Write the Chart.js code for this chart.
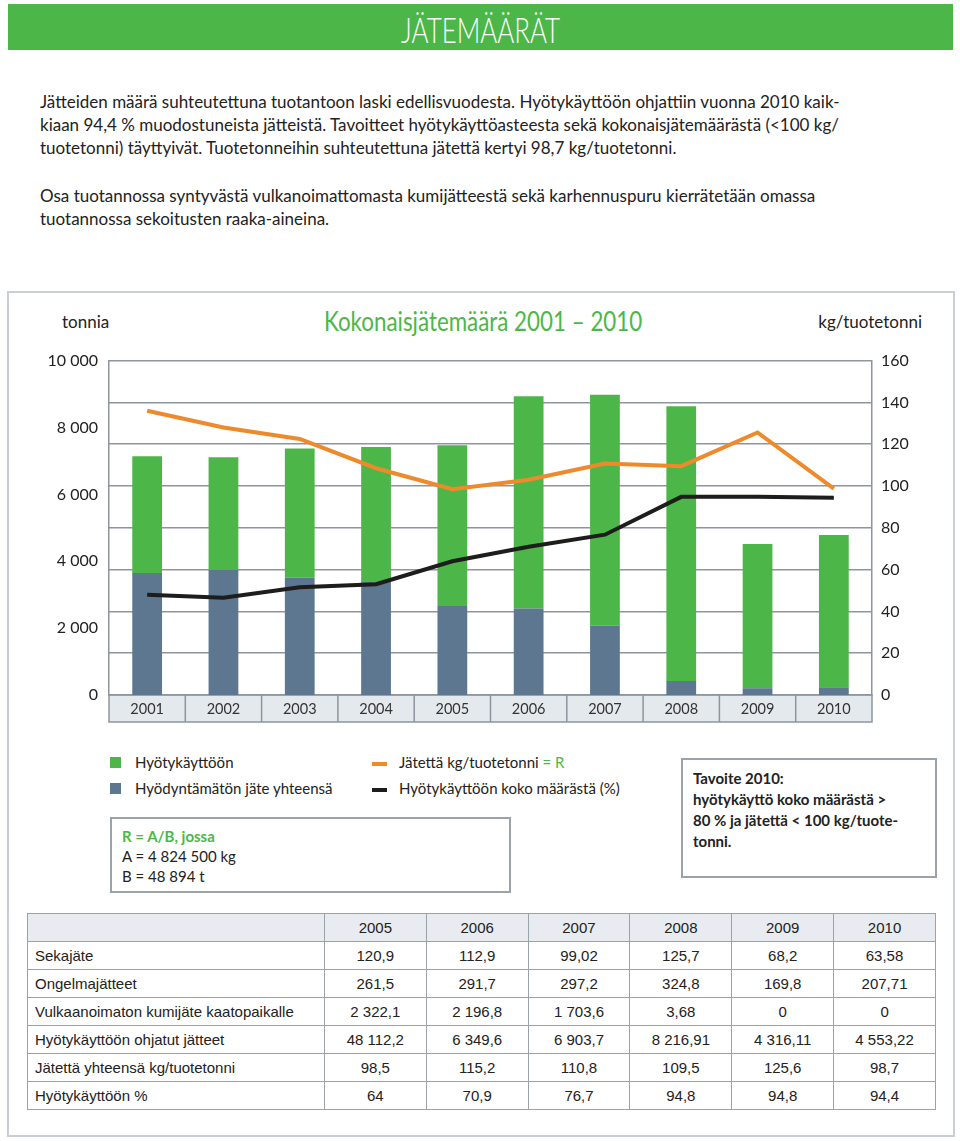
<!DOCTYPE html>
<html lang="fi">
<head>
<meta charset="utf-8">
<title>Jätemäärät</title>
<script src="https://cdn.jsdelivr.net/npm/chart.js@4.4.1/dist/chart.umd.min.js"></script>
<style>
  body { margin: 0; width: 960px; height: 1141px; position: relative; background: #fff; font-family: Lato, "Open Sans", sans-serif; color: #222; overflow: hidden; }
  .abs { position: absolute; white-space: nowrap; }
  .header { left: 8px; top: 4px; width: 945px; height: 46px; background: #4cb748; color: #fff; text-align: center; }
  .header span { display: inline-block; font-family: Lato, sans-serif; font-weight: 300; font-size: 36px; line-height: 50px; transform: scaleX(0.72); }
  .intro { left: 40px; font-size: 17px; line-height: 23px; }
  .frame { left: 7px; top: 291px; width: 944px; height: 842px; border: 2px solid #c9cfd5; }
  .legend { font-size: 15px; line-height: 20px; }
  .sq { display: inline-block; width: 11px; height: 11px; }
  .box { border: 2px solid #9ba3aa; font-size: 15px; line-height: 20px; }
  table { border-collapse: collapse; font-family: "Liberation Sans", sans-serif; font-size: 15px; color: #222; }
  tr { height: 28px; }
  td { border: 1.5px solid #9ba3aa; padding: 0; text-align: center; }
  td:first-child { text-align: left; padding-left: 7px; }
  tr.head td { background: #e8ecf0; }
</style>
</head>
<body>
<div class="abs header"><span>JÄTEMÄÄRÄT</span></div>

<div class="abs intro" style="top:90px">Jätteiden määrä suhteutettuna tuotantoon laski edellisvuodesta. Hyötykäyttöön ohjattiin vuonna 2010 kaik-<br>kiaan 94,4 % muodostuneista jätteistä. Tavoitteet hyötykäyttöasteesta sekä kokonaisjätemäärästä (&lt;100 kg/<br>tuotetonni) täyttyivät. Tuotetonneihin suhteutettuna jätettä kertyi 98,7 kg/tuotetonni.</div>
<div class="abs intro" style="top:184px">Osa tuotannossa syntyvästä vulkanoimattomasta kumijätteestä sekä karhennuspuru kierrätetään omassa<br>tuotannossa sekoitusten raaka-aineina.</div>

<div class="abs frame"></div>

<div class="abs" style="left:62px; top:311px; font-size:17px; line-height:22px;">tonnia</div>
<div class="abs" style="left:280px; width:406px; text-align:center; top:305px; line-height:32px; color:#4cb748;"><span style="display:inline-block; font-size:26px; transform:scaleX(0.86);">Kokonaisjätemäärä 2001 – 2010</span></div>
<div class="abs" style="left:700px; width:222px; text-align:right; top:311px; font-size:17px; line-height:22px;">kg/tuotetonni</div>

<div class="abs" style="left:0; top:340px; width:960px; height:390px;">
  <canvas id="chart" width="960" height="390"></canvas>
</div>

<!-- legend -->
<div class="abs legend" style="left:110px; top:752px;"><span class="sq" style="background:#4cb748"></span><span style="margin-left:14px">Hyötykäyttöön</span></div>
<div class="abs legend" style="left:110px; top:778px;"><span class="sq" style="background:#5c778f"></span><span style="margin-left:14px">Hyödyntämätön jäte yhteensä</span></div>
<div class="abs legend" style="left:372px; top:752px;"><span style="display:inline-block;width:15px;height:4px;background:#ee8a2c;vertical-align:middle"></span><span style="margin-left:12px">Jätettä kg/tuotetonni <span style="color:#4cb748">= R</span></span></div>
<div class="abs legend" style="left:372px; top:778px;"><span style="display:inline-block;width:15px;height:4px;background:#1d1d1b;vertical-align:middle"></span><span style="margin-left:12px">Hyötykäyttöön koko määrästä (%)</span></div>

<div class="abs box" style="left:110px; top:817px; width:397px; height:72px;">
  <div style="padding:7px 0 0 10px"><b style="color:#4cb748">R = A/B, jossa</b><br>A = 4 824 500 kg<br>B = 48 894 t</div>
</div>

<div class="abs box" style="left:681px; top:758px; width:252px; height:116px; font-weight:bold;">
  <div style="padding:8px 0 0 10px; line-height:21px">Tavoite 2010:<br>hyötykäyttö koko määrästä &gt;<br>80 % ja jätettä &lt; 100 kg/tuote-<br>tonni.</div>
</div>

<table class="abs" id="tbl" style="left:27px; top:913px; width:909px;"></table>

<script>
// chart data
const years = ['2001', '2002', '2003', '2004', '2005', '2006', '2007', '2008', '2009', '2010'];
const hyotykaytto = [3490, 3370, 3865, 4015, 4812, 6350, 6904, 8217, 4316, 4553];   // tonnia
const hyodyntamaton = [3650, 3740, 3510, 3400, 2660, 2585, 2075, 420, 200, 230];    // tonnia
const jatettaKg = [136, 128, 122.5, 108.5, 98.5, 103, 110.8, 109.5, 125.6, 98.7];  // kg/tuotetonni
const hyotyPct = [48, 46.5, 51.5, 53, 64, 70.9, 76.7, 94.8, 94.8, 94.4];           // %

// table data
const tableYears = ['2005', '2006', '2007', '2008', '2009', '2010'];
const rowLabels = ['Sekajäte', 'Ongelmajätteet', 'Vulkaanoimaton kumijäte kaatopaikalle',
  'Hyötykäyttöön ohjatut jätteet', 'Jätettä yhteensä kg/tuotetonni', 'Hyötykäyttöön %'];
const sekajate = ['120,9', '112,9', '99,02', '125,7', '68,2', '63,58'];
const ongelma = ['261,5', '291,7', '297,2', '324,8', '169,8', '207,71'];
const vulkaanoimaton = ['2 322,1', '2 196,8', '1 703,6', '3,68', '0', '0'];
const ohjatut = ['48 112,2', '6 349,6', '6 903,7', '8 216,91', '4 316,11', '4 553,22'];
const jatettaYht = ['98,5', '115,2', '110,8', '109,5', '125,6', '98,7'];
const hyotyRow = ['64', '70,9', '76,7', '94,8', '94,8', '94,4'];

const GREEN = '#4cb748';
const SLATE = '#5c778f';
const ORANGE = '#ee8a2c';
const BLACK = '#1d1d1b';
const GRID = '#8d969e';

// build table
const tbl = document.getElementById('tbl');
const rows = [sekajate, ongelma, vulkaanoimaton, ohjatut, jatettaYht, hyotyRow];
let html = '<colgroup><col style="width:297px">' + tableYears.map(() => '<col style="width:102px">').join('') + '</colgroup>';
html += '<tr class="head"><td></td>' + tableYears.map(y => `<td>${y}</td>`).join('') + '</tr>';
rows.forEach((r, i) => {
  html += `<tr><td>${rowLabels[i]}</td>` + r.map(v => `<td>${v}</td>`).join('') + '</tr>';
});
tbl.innerHTML = html;

// grey year cells under the plot
const yearCells = {
  id: 'yearCells',
  beforeDraw(chart) {
    const { ctx, chartArea: a, scales: { x } } = chart;
    const h = 27;
    const step = (a.right - a.left) / years.length;
    ctx.save();
    ctx.fillStyle = '#e4e9ee';
    ctx.fillRect(a.left, a.bottom, a.right - a.left, h);
    ctx.strokeStyle = GRID;
    ctx.lineWidth = 1.5;
    ctx.strokeRect(a.left, a.bottom, a.right - a.left, h);
    ctx.beginPath();
    for (let i = 1; i < years.length; i++) {
      const px = x.getPixelForValue(i) - step / 2;
      ctx.moveTo(px, a.bottom);
      ctx.lineTo(px, a.bottom + h);
    }
    ctx.stroke();
    ctx.restore();
  }
};

const tickFont = { family: 'Lato', size: 16 };

new Chart(document.getElementById('chart'), {
  data: {
    labels: years,
    datasets: [
      { type: 'line', label: 'Jätettä kg/tuotetonni', data: jatettaKg, yAxisID: 'y1', order: 0,
        borderColor: ORANGE, borderWidth: 4, pointRadius: 0, tension: 0 },
      { type: 'line', label: 'Hyötykäyttöön koko määrästä (%)', data: hyotyPct, yAxisID: 'y1', order: 0,
        borderColor: BLACK, borderWidth: 4, pointRadius: 0, tension: 0 },
      { type: 'bar', label: 'Hyödyntämätön jäte yhteensä', data: hyodyntamaton, yAxisID: 'y', order: 1,
        backgroundColor: SLATE, barPercentage: 0.39, categoryPercentage: 1 },
      { type: 'bar', label: 'Hyötykäyttöön', data: hyotykaytto, yAxisID: 'y', order: 1,
        backgroundColor: GREEN, barPercentage: 0.39, categoryPercentage: 1 }
    ]
  },
  options: {
    responsive: false,
    animation: false,
    layout: { padding: { top: 17, bottom: 8, left: 0, right: 0 } },
    plugins: { legend: { display: false }, tooltip: { enabled: false } },
    scales: {
      x: {
        stacked: true,
        grid: { display: false, drawTicks: false },
        border: { display: false },
        ticks: { color: '#333', font: { family: 'Lato', size: 14.5 }, padding: 6 },
        afterFit: s => { s.height = 27; }
      },
      y: {
        stacked: true,
        position: 'left',
        min: 0, max: 10000,
        ticks: { stepSize: 2000, color: '#222', font: tickFont, padding: 11,
          callback: v => v.toLocaleString('fi-FI').replace(/\s/g, ' ') },
        grid: { display: false, drawTicks: false },
        border: { display: true, color: GRID, width: 1.5 },
        afterFit: s => { s.width = 109; }
      },
      y1: {
        position: 'right',
        min: 0, max: 160,
        ticks: { stepSize: 20, color: '#222', font: tickFont, padding: 9 },
        grid: { color: GRID, lineWidth: 1.5, drawTicks: false },
        border: { display: true, color: GRID, width: 1.5 },
        afterFit: s => { s.width = 88; }
      }
    }
  },
  plugins: [yearCells]
});
</script>
</body>
</html>
